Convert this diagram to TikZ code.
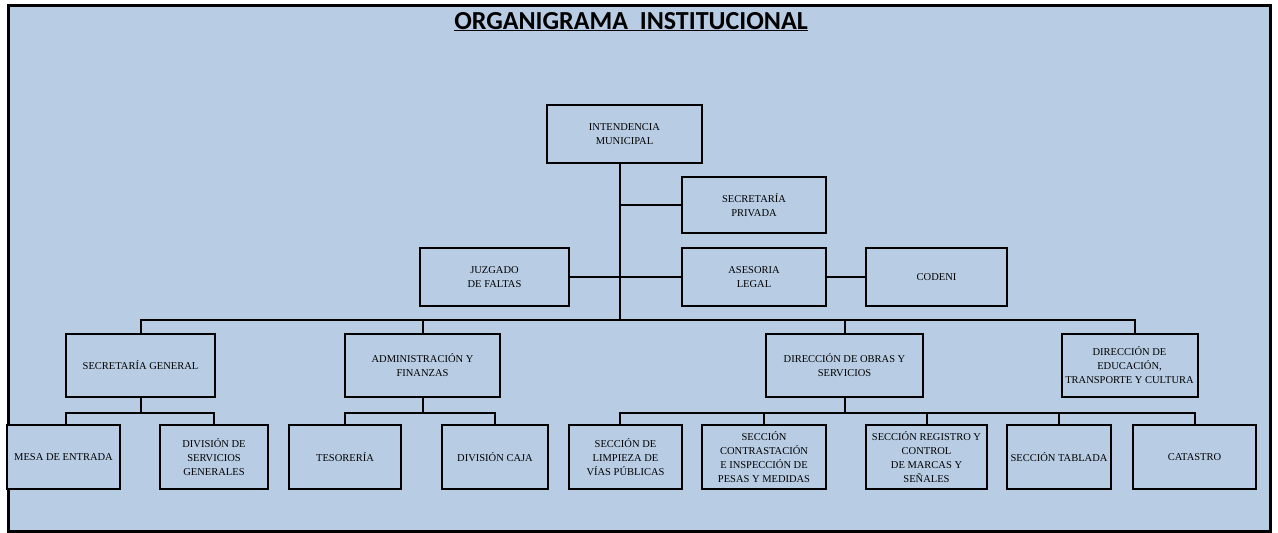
\documentclass[tikz,border=0pt]{standalone}
\usepackage{fontspec}
\setmainfont{Liberation Serif}
\newfontfamily\titlefont{Carlito}
\usepackage{tikz}
\usetikzlibrary{positioning, calc}
\definecolor{orgblue}{HTML}{B8CCE4}

\begin{document}
\begin{tikzpicture}[x=1pt, y=-1pt,
    box/.style={draw, line width=2pt, fill=orgblue, align=center, inner sep=1pt,
      font=\fontsize{10.5}{14}\selectfont},
    link/.style={line width=2pt}]
    % Frame and background
    \useasboundingbox (0,0) rectangle (1278,533);
    \draw[line width=3pt, fill=orgblue] (8,5) rectangle (1270,531);

    % Title
    \node[anchor=base, font=\titlefont\bfseries\fontsize{26}{30}\selectfont] (title) at (631,29) {\underline{ORGANIGRAMA\ \ INSTITUCIONAL}};

    % Draw boxes: name/x/y/width/height/text
    \foreach \n/\x/\y/\w/\h/\t in {
      intend/624.5/134/155/58/{INTENDENCIA\\MUNICIPAL},
      spriv/754/205/144/56/{SECRETARÍA\\PRIVADA},
      juzg/494.5/277/149/58/{JUZGADO\\DE FALTAS},
      aseso/754/277/144/58/{ASESORIA\\LEGAL},
      codeni/936.5/277/141/58/{CODENI},
      secgen/140.5/365.5/149/63/{SECRETARÍA GENERAL},
      admfin/422.5/365.5/155/63/{ADMINISTRACIÓN Y\\FINANZAS},
      obras/844.5/365.5/157/63/{DIRECCIÓN DE OBRAS Y\\SERVICIOS},
      educ/1129.5/365.5/136/63/{DIRECCIÓN DE\\EDUCACIÓN,\\TRANSPORTE Y CULTURA},
      mesa/63.5/457/113/64/{MESA DE ENTRADA},
      divserv/214/457/108/64/{DIVISIÓN DE\\SERVICIOS\\GENERALES},
      tesor/345/457/112/64/{TESORERÍA},
      caja/495/457/106/64/{DIVISIÓN CAJA},
      limp/625.5/457/113/64/{SECCIÓN DE\\LIMPIEZA DE\\VÍAS PÚBLICAS},
      contr/764/457/124/64/{SECCIÓN\\CONTRASTACIÓN\\E INSPECCIÓN DE\\PESAS Y MEDIDAS},
      regis/926.5/457/121/64/{SECCIÓN REGISTRO Y\\CONTROL\\DE MARCAS Y\\SEÑALES},
      tabl/1059/457/104/64/{SECCIÓN TABLADA},
      catas/1194.5/457/123/64/{CATASTRO}} {
      \node[box, minimum width=\w pt, minimum height=\h pt] (\n) at (\x,\y) {\t};
    }

    % Trunk from the intendencia down to the main bus
    \coordinate (top) at (620,320);
    \draw[link] (intend.south -| top) -- (top);
    \draw[link] (spriv.west) -- (spriv.west -| top);
    \draw[link] (juzg.east) -- (juzg.east -| top);
    \draw[link] (aseso.west) -- (aseso.west -| top);
    \draw[link] (aseso.east) -- (codeni.west);

    % Main bus to the direcciones
    \coordinate (edrop) at ($(educ.north)+(5,0)$);
    \draw[link] (secgen.north) |- (top) -| (edrop);
    \foreach \n in {admfin, obras} {
      \draw[link] (\n.north) -- (\n.north |- top);
    }

    % Sub buses
    \draw[link] (secgen.south) -- ++(0,15) coordinate (sgb);
    \draw[link] ($(mesa.north)+(2.5,0)$) |- (sgb) -| (divserv.north);
    \draw[link] (admfin.south) -- ++(0,15) coordinate (afb);
    \draw[link] (tesor.north) |- (afb) -| (caja.north);
    \draw[link] (obras.south) -- ++(0,15) coordinate (obb);
    \draw[link] ($(limp.north)+(-5.5,0)$) |- (obb) -| (catas.north);
    \foreach \n in {contr, regis, tabl} {
      \draw[link] (\n.north) -- (\n.north |- obb);
    }
  \end{tikzpicture}
\end{document}
